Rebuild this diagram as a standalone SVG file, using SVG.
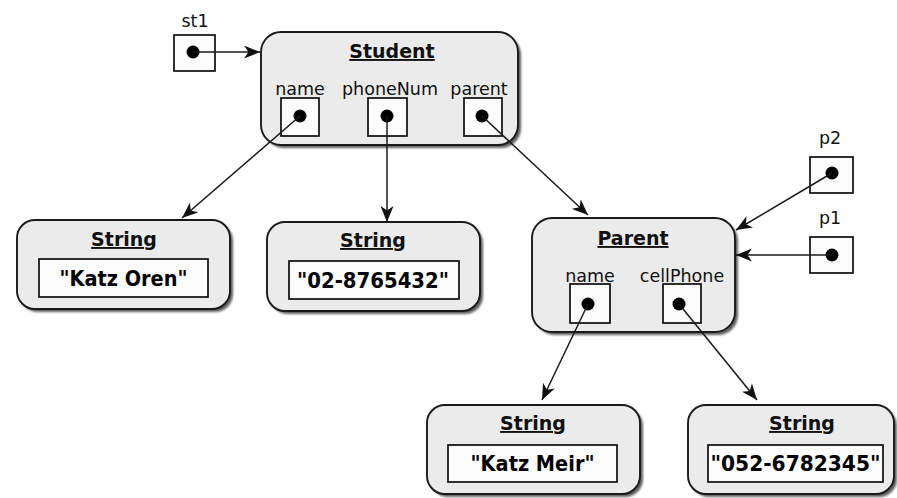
<svg xmlns="http://www.w3.org/2000/svg" width="897" height="498" viewBox="0 0 897 498">
  <style>
    .obj { fill: #ebebeb; stroke: #1a1a1a; stroke-width: 1.9; }
    .shadow { fill: #5e5e5e; filter: url(#soft); }
    .cell { fill: #fcfcfc; stroke: #0d0d0d; stroke-width: 1.7; }
    .dot { fill: #000; }
    .title { font-family: "DejaVu Sans", Verdana, sans-serif; font-weight: bold; font-size: 19px; text-anchor: middle; text-decoration: underline; fill: #111; }
    .value { font-family: "DejaVu Sans", Verdana, sans-serif; font-weight: bold; font-size: 21px; text-anchor: middle; fill: #000; }
    .label { font-family: "DejaVu Sans", Verdana, sans-serif; font-size: 17.5px; text-anchor: middle; fill: #111; }
    .ref { stroke: #1a1a1a; stroke-width: 1.5; fill: none; marker-end: url(#head); }
  </style>
  <defs>
    <filter id="soft" x="-5%" y="-5%" width="110%" height="110%">
      <feGaussianBlur stdDeviation="1.1"/>
    </filter>
    <marker id="head" markerUnits="userSpaceOnUse" markerWidth="17" markerHeight="13" refX="16" refY="6.5" orient="auto">
      <path d="M0,0 L16,6.5 L0,13 L4.5,6.5 z" fill="#111"/>
    </marker>
  </defs>

  <rect width="897" height="498" fill="#fff"/>

  <!-- reference variables -->
  <g id="st1">
    <text class="label" x="195" y="27">st1</text>
    <rect class="cell" x="174" y="35" width="41" height="36"/>
    <circle class="dot" cx="193" cy="52" r="6.5"/>
  </g>
  <g id="p2">
    <text class="label" x="830" y="144">p2</text>
    <rect class="cell" x="810" y="157" width="43" height="36"/>
    <circle class="dot" cx="832" cy="173" r="6.5"/>
  </g>
  <g id="p1">
    <text class="label" x="830" y="224">p1</text>
    <rect class="cell" x="810" y="237" width="43" height="36"/>
    <circle class="dot" cx="832" cy="255" r="6.5"/>
  </g>

  <!-- Student object -->
  <g id="student">
    <rect class="shadow" x="264" y="35" width="257" height="113" rx="20"/>
    <rect class="obj" x="261" y="32" width="257" height="113" rx="20"/>
    <text class="title" x="392" y="58">Student</text>
    <text class="label" x="300" y="95">name</text>
    <text class="label" x="390" y="95">phoneNum</text>
    <text class="label" x="479" y="95">parent</text>
    <rect class="cell" x="281" y="98" width="38" height="38"/>
    <rect class="cell" x="368" y="98" width="39" height="38"/>
    <rect class="cell" x="464" y="98" width="38" height="38"/>
    <circle class="dot" cx="300" cy="116" r="6.5"/>
    <circle class="dot" cx="387" cy="116" r="6.5"/>
    <circle class="dot" cx="482" cy="116" r="6.5"/>
  </g>

  <!-- String "Katz Oren" -->
  <g id="str-katz-oren">
    <rect class="shadow" x="20" y="223" width="213" height="89" rx="18"/>
    <rect class="obj" x="17" y="220" width="213" height="89" rx="18"/>
    <text class="title" x="124" y="246">String</text>
    <rect class="cell" x="39" y="259" width="169" height="38" fill="#fff"/>
    <text class="value" x="123.5" y="286" textLength="128" lengthAdjust="spacingAndGlyphs">"Katz Oren"</text>
  </g>

  <!-- String "02-8765432" -->
  <g id="str-phone">
    <rect class="shadow" x="270" y="225" width="213" height="89" rx="18"/>
    <rect class="obj" x="267" y="222" width="213" height="89" rx="18"/>
    <text class="title" x="373" y="247">String</text>
    <rect class="cell" x="289" y="261" width="170" height="38"/>
    <text class="value" x="373" y="288" textLength="152" lengthAdjust="spacingAndGlyphs">"02-8765432"</text>
  </g>

  <!-- Parent object -->
  <g id="parent">
    <rect class="shadow" x="535" y="221" width="203" height="114" rx="20"/>
    <rect class="obj" x="532" y="218" width="203" height="114" rx="20"/>
    <text class="title" x="633" y="245">Parent</text>
    <text class="label" x="590" y="282">name</text>
    <text class="label" x="682" y="282">cellPhone</text>
    <rect class="cell" x="570" y="284" width="40" height="39"/>
    <rect class="cell" x="663" y="284" width="38" height="39"/>
    <circle class="dot" cx="588" cy="304" r="6.5"/>
    <circle class="dot" cx="679" cy="304" r="6.5"/>
  </g>

  <!-- String "Katz Meir" -->
  <g id="str-katz-meir">
    <rect class="shadow" x="430" y="408" width="213" height="89" rx="18"/>
    <rect class="obj" x="427" y="405" width="213" height="89" rx="18"/>
    <text class="title" x="533" y="430">String</text>
    <rect class="cell" x="448" y="445" width="169" height="37"/>
    <text class="value" x="532.5" y="471" textLength="124" lengthAdjust="spacingAndGlyphs">"Katz Meir"</text>
  </g>

  <!-- String "052-6782345" -->
  <g id="str-cell">
    <rect class="shadow" x="691" y="408" width="206" height="89" rx="18"/>
    <rect class="obj" x="688" y="405" width="206" height="89" rx="18"/>
    <text class="title" x="802" y="430">String</text>
    <rect class="cell" x="708" y="445" width="175" height="37"/>
    <text class="value" x="795.5" y="471" textLength="170" lengthAdjust="spacingAndGlyphs">"052-6782345"</text>
  </g>

  <!-- references -->
  <g id="connectors">
    <line class="ref" x1="193" y1="52" x2="260" y2="52"/>
    <line class="ref" x1="300" y1="116" x2="182" y2="218"/>
    <line class="ref" x1="387" y1="116" x2="387" y2="222"/>
    <line class="ref" x1="482" y1="116" x2="588" y2="215"/>
    <line class="ref" x1="832" y1="173" x2="736" y2="230"/>
    <line class="ref" x1="832" y1="255" x2="736" y2="255"/>
    <line class="ref" x1="588" y1="304" x2="542" y2="400"/>
    <line class="ref" x1="679" y1="304" x2="757" y2="400"/>
  </g>
</svg>
